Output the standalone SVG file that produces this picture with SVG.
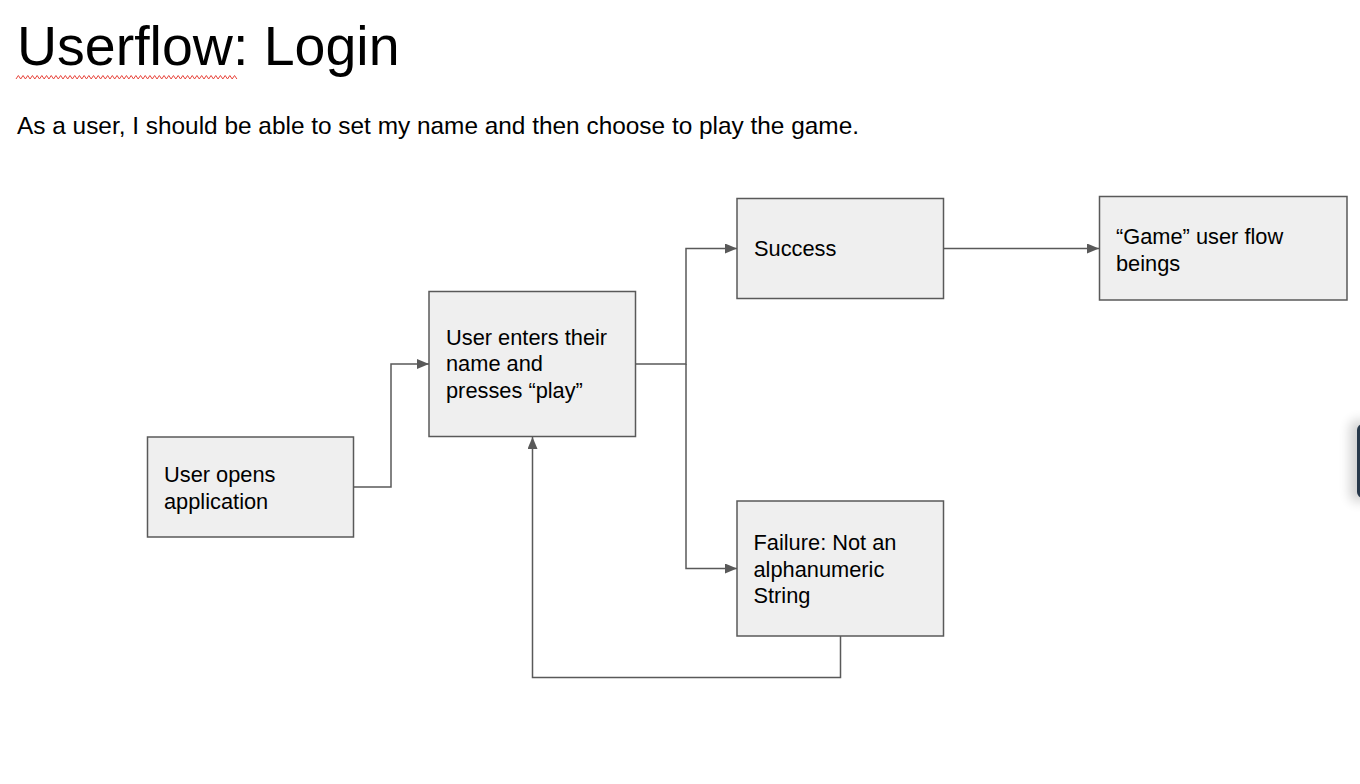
<svg xmlns="http://www.w3.org/2000/svg" width="1360" height="784" viewBox="0 0 1360 784">
  <style>
    .box { fill: #efefef; stroke: #595959; stroke-width: 1.5; }
    .lbl { font-family: "Liberation Sans", Arial, sans-serif; font-size: 21.8px; fill: #000000; }
    .con { fill: none; stroke: #595959; stroke-width: 1.5; }
  </style>
  <defs>
    <marker id="arr" viewBox="0 0 12 10" refX="12" refY="5" markerWidth="12" markerHeight="10" markerUnits="userSpaceOnUse" orient="auto">
      <path d="M0,0 L12,5 L0,10 Z" fill="#595959"/>
    </marker>
    <filter id="sh" x="-300%" y="-50%" width="700%" height="200%">
      <feGaussianBlur stdDeviation="6"/>
    </filter>
  </defs>
  <rect width="1360" height="784" fill="#ffffff"/>

  <g id="title">
    <text x="17" y="65" font-family="'Liberation Sans', Arial, sans-serif" font-size="55.5px" fill="#000">Userflow: Login</text>
    <path d="M16,79 l2.35,-3.5 l2.35,3.5 l2.35,-3.5 l2.35,3.5 l2.35,-3.5 l2.35,3.5 l2.35,-3.5 l2.35,3.5 l2.35,-3.5 l2.35,3.5 l2.35,-3.5 l2.35,3.5 l2.35,-3.5 l2.35,3.5 l2.35,-3.5 l2.35,3.5 l2.35,-3.5 l2.35,3.5 l2.35,-3.5 l2.35,3.5 l2.35,-3.5 l2.35,3.5 l2.35,-3.5 l2.35,3.5 l2.35,-3.5 l2.35,3.5 l2.35,-3.5 l2.35,3.5 l2.35,-3.5 l2.35,3.5 l2.35,-3.5 l2.35,3.5 l2.35,-3.5 l2.35,3.5 l2.35,-3.5 l2.35,3.5 l2.35,-3.5 l2.35,3.5 l2.35,-3.5 l2.35,3.5 l2.35,-3.5 l2.35,3.5 l2.35,-3.5 l2.35,3.5 l2.35,-3.5 l2.35,3.5 l2.35,-3.5 l2.35,3.5 l2.35,-3.5 l2.35,3.5 l2.35,-3.5 l2.35,3.5 l2.35,-3.5 l2.35,3.5 l2.35,-3.5 l2.35,3.5 l2.35,-3.5 l2.35,3.5 l2.35,-3.5 l2.35,3.5 l2.35,-3.5 l2.35,3.5 l2.35,-3.5 l2.35,3.5 l2.35,-3.5 l2.35,3.5 l2.35,-3.5 l2.35,3.5 l2.35,-3.5 l2.35,3.5 l2.35,-3.5 l2.35,3.5 l2.35,-3.5 l2.35,3.5 l2.35,-3.5 l2.35,3.5 l2.35,-3.5 l2.35,3.5 l2.35,-3.5 l2.35,3.5 l2.35,-3.5 l2.35,3.5 l2.35,-3.5 l2.35,3.5 l2.35,-3.5 l2.35,3.5 l2.35,-3.5 l2.35,3.5 l2.35,-3.5 l2.35,3.5 l2.35,-3.5 l2.35,3.5 l2.35,-3.5 l2.35,3.5" fill="none" stroke="#e8453c" stroke-width="1"/>
    <text x="17" y="133.5" font-family="'Liberation Sans', Arial, sans-serif" font-size="24.4px" fill="#000">As a user, I should be able to set my name and then choose to play the game.</text>
  </g>

  <g id="connectors">
    <path class="con" d="M354,487 H391 V364 H429" marker-end="url(#arr)"/>
    <path class="con" d="M636,364 H686 V248.5 H737" marker-end="url(#arr)"/>
    <path class="con" d="M686,364 V568.5 H737" marker-end="url(#arr)"/>
    <path class="con" d="M944,248.5 H1099" marker-end="url(#arr)"/>
    <path class="con" d="M840.5,636 V677.5 H532.5 V437" marker-end="url(#arr)"/>
  </g>

  <g id="node-open">
    <rect class="box" x="147.5" y="437" width="206" height="100"/>
    <text class="lbl" x="164" y="482">User opens</text>
    <text class="lbl" x="164" y="508.5">application</text>
  </g>

  <g id="node-enter">
    <rect class="box" x="429" y="291.5" width="206.5" height="145"/>
    <text class="lbl" x="446" y="344.5">User enters their</text>
    <text class="lbl" x="446" y="371">name and</text>
    <text class="lbl" x="446" y="397.5">presses “play”</text>
  </g>

  <g id="node-success">
    <rect class="box" x="737" y="198.5" width="206.5" height="100"/>
    <text class="lbl" x="754" y="255.7">Success</text>
  </g>

  <g id="node-game">
    <rect class="box" x="1099.5" y="196.5" width="247.5" height="103.5"/>
    <text class="lbl" x="1116" y="244">“Game” user flow</text>
    <text class="lbl" x="1116" y="270.5">beings</text>
  </g>

  <g id="node-failure">
    <rect class="box" x="737" y="501" width="206.5" height="135"/>
    <text class="lbl" x="753.5" y="550">Failure: Not an</text>
    <text class="lbl" x="753.5" y="576.5">alphanumeric</text>
    <text class="lbl" x="753.5" y="603">String</text>
  </g>

  <g id="edge-widget">
    <rect x="1350" y="420" width="20" height="82" rx="8" fill="#000" opacity="0.18" filter="url(#sh)"/>
    <rect x="1357" y="424" width="12" height="74" rx="6" fill="#27384a"/>
  </g>
</svg>
